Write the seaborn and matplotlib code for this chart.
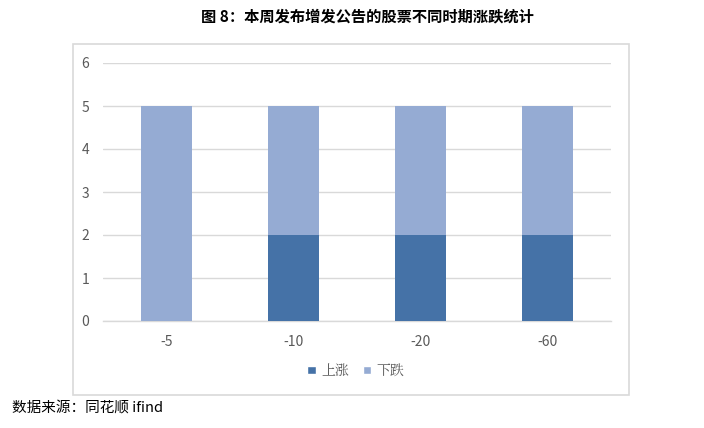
import matplotlib
matplotlib.use("Agg")
import matplotlib.pyplot as plt
import seaborn as sns
import pandas as pd
from matplotlib.patches import Rectangle, Patch

categories = ["-5", "-10", "-20", "-60"]
up_counts = [0, 2, 2, 2]
down_counts = [5, 3, 3, 3]
series_names = ["上涨", "下跌"]
yticks = [0, 1, 2, 3, 4, 5, 6]

sns.set_theme(style="white")
plt.rcParams['font.family'] = ['Noto Sans CJK SC', 'DejaVu Sans']

dark = "#4572A7"
light = "#95ABD3"

fig = plt.figure(figsize=(7.04, 4.28), dpi=100)
ax = fig.add_axes([103/704, 1-321/428, (611-103)/704, (321-63)/428])

totals = [u + d for u, d in zip(up_counts, down_counts)]
df_tot = pd.DataFrame({"cat": categories, "val": totals})
df_up = pd.DataFrame({"cat": categories, "val": up_counts})

sns.barplot(data=df_tot, x="cat", y="val", color=light, width=0.4,
            saturation=1, ax=ax, zorder=3, linewidth=0)
sns.barplot(data=df_up, x="cat", y="val", color=dark, width=0.4,
            saturation=1, ax=ax, zorder=4, linewidth=0)

ax.set_ylim(0, 6)
ax.set_xlim(-0.5, 3.5)
ax.set_yticks(yticks)
ax.yaxis.grid(True, color="#D9D9D9", linewidth=1)
ax.set_axisbelow(True)
for s in ["top", "right", "left"]:
    ax.spines[s].set_visible(False)
ax.spines["bottom"].set_color("#D9D9D9")
ax.spines["bottom"].set_linewidth(1)
ax.set_xlabel("")
ax.set_ylabel("")
ax.tick_params(axis="both", length=0, labelsize=10, colors="#595959", pad=10)
ax.tick_params(axis="y", pad=10)

handles = [Patch(facecolor=dark), Patch(facecolor=light)]
fig.legend(handles, series_names, loc="center", bbox_to_anchor=(356/704, 1-371/428),
           ncol=2, frameon=False, handlelength=0.6, handleheight=0.6,
           handletextpad=0.4, columnspacing=1.0,
           prop={"family": ["Noto Serif CJK SC", "Noto Sans CJK SC"], "size": 10},
           labelcolor="#595959")

border = Rectangle((73/704, 1-395/428), (629-73)/704, (395-44)/428,
                   transform=fig.transFigure, fill=False, edgecolor="#D9D9D9",
                   linewidth=1.2)
fig.add_artist(border)

fig.text(367/704, 1-16/428, "图 8：本周发布增发公告的股票不同时期涨跌统计",
         ha="center", va="center", fontsize=11, fontweight="bold", color="black")
fig.text(12/704, 1-409/428, "数据来源：同花顺 ifind", ha="left", va="center",
         fontsize=10.5, color="black")

fig.savefig("out.png", dpi=100)
